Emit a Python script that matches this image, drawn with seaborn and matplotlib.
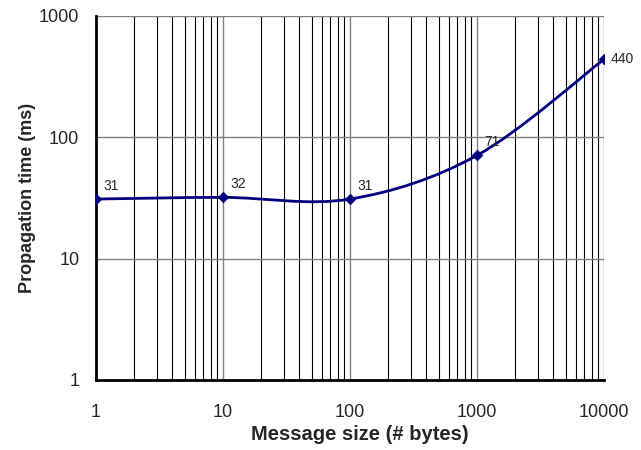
import numpy as np
import matplotlib
matplotlib.use("Agg")
import matplotlib.pyplot as plt
import seaborn as sns
import pandas as pd
from matplotlib.path import Path
from matplotlib.patches import PathPatch
from matplotlib.ticker import LogLocator, FixedLocator, FixedFormatter, NullFormatter

# data
msg_size = [1, 10, 100, 1000, 10000]
prop_time = [31, 32, 31, 71, 440]
x_ticks = [1, 10, 100, 1000, 10000]
y_ticks = [1, 10, 100, 1000]

navy = "#000080"

sns.set_style("white")
plt.rcParams["font.family"] = ["Liberation Sans", "DejaVu Sans"]

fig = plt.figure(figsize=(6.41, 4.5), dpi=100)
ax = fig.add_axes([96 / 641, 1 - 380 / 450, 508 / 641, 364 / 450])
ax.set_xscale("log")
ax.set_yscale("log")
ax.set_xlim(1, 10000)
ax.set_ylim(1, 1000)

# smoothed line (Excel style bezier, built in log space)
lx = np.log10(msg_size)
ly = np.log10(prop_time)
n = len(lx)
verts = [(msg_size[0], prop_time[0])]
codes = [Path.MOVETO]
for i in range(n - 1):
    p0 = np.array([lx[max(i - 1, 0)], ly[max(i - 1, 0)]])
    p1 = np.array([lx[i], ly[i]])
    p2 = np.array([lx[i + 1], ly[i + 1]])
    p3 = np.array([lx[min(i + 2, n - 1)], ly[min(i + 2, n - 1)]])
    c1 = p1 + (p2 - p0) / 6
    c2 = p2 - (p3 - p1) / 6
    for c in (c1, c2, p2):
        verts.append((10 ** c[0], 10 ** c[1]))
        codes.append(Path.CURVE4)
ax.add_patch(PathPatch(Path(verts, codes), facecolor="none", edgecolor=navy,
                       lw=2.0, zorder=3))

df = pd.DataFrame({"size": msg_size, "time": prop_time})
sns.scatterplot(data=df, x="size", y="time", marker="D", s=30, color=navy,
                edgecolor=navy, ax=ax, zorder=4, legend=False)

for xv, yv in zip(msg_size, prop_time):
    if xv == msg_size[-1]:
        ax.annotate(str(yv), (xv, yv), xytext=(5, 0), textcoords="offset points",
                    ha="left", va="center", fontsize=10)
    else:
        ax.annotate(str(yv), (xv, yv), xytext=(5, 9.5), textcoords="offset points",
                    ha="left", va="center", fontsize=10)

# ticks and grid
ax.xaxis.set_major_locator(FixedLocator(x_ticks))
ax.xaxis.set_major_formatter(FixedFormatter([str(t) for t in x_ticks]))
ax.xaxis.set_minor_locator(LogLocator(base=10, subs=np.arange(2, 10)))
ax.xaxis.set_minor_formatter(NullFormatter())
ax.yaxis.set_major_locator(FixedLocator(y_ticks))
ax.yaxis.set_major_formatter(FixedFormatter([str(t) for t in y_ticks]))
ax.yaxis.set_minor_locator(FixedLocator([]))

ax.grid(True, which="major", axis="both", color="#808080", lw=1.0)
ax.grid(True, which="minor", axis="x", color="black", lw=0.8)
ax.set_axisbelow(True)

ax.tick_params(which="major", direction="out", length=6, width=2, labelsize=13,
               pad=6, color="black")
ax.tick_params(which="minor", length=0)
ax.tick_params(axis="x", pad=11)

for s in ["top", "right"]:
    ax.spines[s].set_visible(False)
for s in ["left", "bottom"]:
    ax.spines[s].set_linewidth(2)
    ax.spines[s].set_color("black")

ax.set_xlabel("Message size (# bytes)", fontsize=14.5, fontweight="bold")
ax.set_ylabel("Propagation time (ms)", fontsize=13, fontweight="bold")
ax.xaxis.set_label_coords(0.52, -0.125)
ax.yaxis.set_label_coords(-0.118, 0.5)

fig.savefig("out.png", dpi=100)
